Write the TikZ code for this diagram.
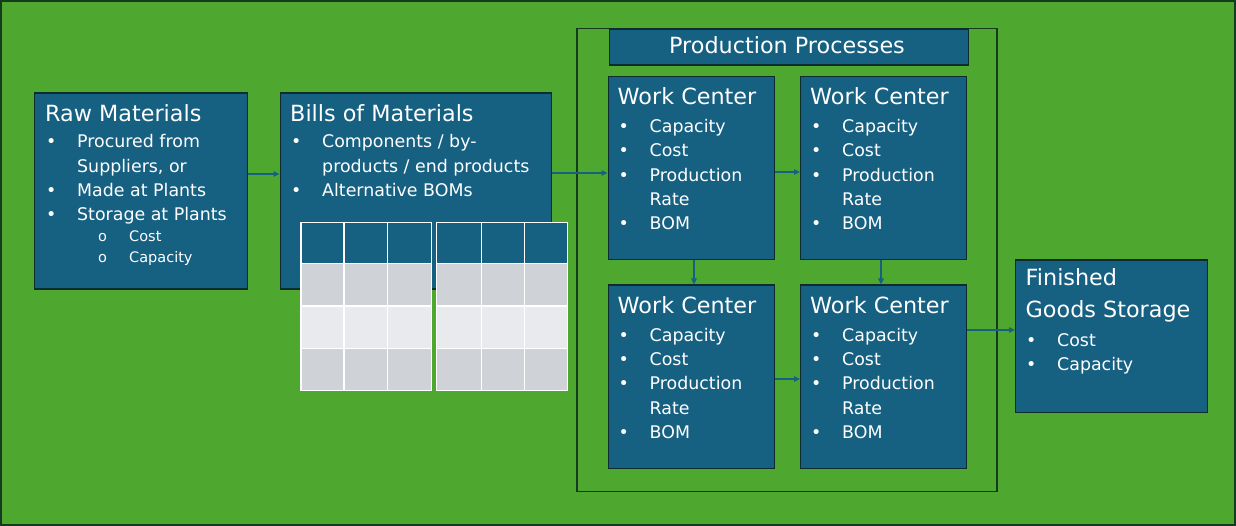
\documentclass[tikz,border=0pt]{standalone}
\usepackage{fontspec}
\setmainfont{DejaVu Sans}
\usetikzlibrary{arrows.meta}

\definecolor{fieldgreen}{RGB}{78,167,46}
\definecolor{framedark}{RGB}{22,58,30}
\definecolor{panelblue}{RGB}{22,96,130}
\definecolor{paneledge}{RGB}{14,44,48}
\definecolor{rowgray}{RGB}{207,211,216}
\definecolor{rowlight}{RGB}{232,234,237}

% one bullet line, a wrapped line, and a sub bullet line
\newcommand{\itm}[1]{\makebox[31pt][l]{\textbullet}#1\par}
\newcommand{\cnt}[1]{\hspace*{31pt}#1\par}
\newcommand{\subitm}[1]{\hspace*{52pt}\makebox[31pt][l]{o}#1\par}
\newcommand{\ttl}{\fontsize{22.3}{31.5}\selectfont}
\newcommand{\lst}[1]{\parbox[t]{300pt}{\fontsize{17.4}{24.3}\selectfont\parindent=0pt\raggedright\hyphenpenalty=10000 #1}}

\begin{document}
\begin{tikzpicture}[x=1pt,y=-1pt,
    panel/.style={draw=paneledge,line width=1.3pt,fill=panelblue,anchor=north west,inner sep=0pt},
    txt/.style={anchor=base west,text=white,inner sep=0pt},
    flow/.style={draw=panelblue,line width=1.4pt,-{Triangle[length=6pt,width=5.5pt]}}]
    \useasboundingbox (0,0) rectangle (1236,526);
    \fill[fieldgreen,draw=framedark,line width=2pt] (1,1) rectangle (1235,525);

    % raw materials
    \node[panel,minimum width=213pt,minimum height=196pt] (raw) at (34,92.5) {};
    \node[txt] (rawtitle) at (45,122) {\ttl Raw Materials};
    \node[txt] (rawlist) at (46,148) {\lst{\itm{Procured from}\cnt{Suppliers, or}\itm{Made at Plants}\itm{Storage at Plants}
      {\fontsize{14.5}{21}\selectfont\subitm{Cost}\subitm{Capacity}}}};

    % bills of materials
    \node[panel,minimum width=271pt,minimum height=196pt] (bom) at (279.5,92.5) {};
    \node[txt] (bomtitle) at (290,122) {\ttl Bills of Materials};
    \node[txt] (bomlist) at (291,148) {\lst{\itm{Components / by-}\cnt{products / end products}\itm{Alternative BOMs}}};

    % the two tables
    \foreach \xa/\xb/\xc/\xd in {301/344/387.5/431.5, 436.5/481.5/524.5/567.5} {
      \fill[panelblue] (\xa,222.5) rectangle (\xd,263.5);
      \fill[rowgray] (\xa,263.5) rectangle (\xd,306);
      \fill[rowlight] (\xa,306) rectangle (\xd,348.5);
      \fill[rowgray] (\xa,348.5) rectangle (\xd,390.5);
      \draw[white,line width=1.6pt] (\xa,222.5) rectangle (\xd,390.5);
      \draw[white,line width=1.6pt] (\xb,222.5) -- (\xb,390.5) (\xc,222.5) -- (\xc,390.5)
        (\xa,263.5) -- (\xd,263.5) (\xa,306) -- (\xd,306) (\xa,348.5) -- (\xd,348.5);
    }

    % production processes
    \draw[framedark,line width=1.6pt] (577,28.5) rectangle (997,491.5);
    \node[panel,minimum width=359pt,minimum height=36pt] (prodhead) at (608.5,28.5) {};
    \node[anchor=base,text=white,inner sep=0pt] (prodtitle) at (787,54) {\fontsize{22.3}{25}\selectfont Production Processes};

    \foreach \name/\px/\py in {wca/607.5/76, wcb/800/76, wcc/607.5/284.5, wcd/800/284.5} {
      \node[panel,minimum width=166pt,minimum height=183pt] (\name) at (\px,\py) {};
      \node[txt] (\name title) at (\px+10,\py+29) {\ttl Work Center};
      \node[txt] (\name list) at (\px+11,\py+56.7) {\lst{\itm{Capacity}\itm{Cost}\itm{Production}\cnt{Rate}\itm{BOM}}};
    }

    % finished goods
    \node[panel,minimum width=192pt,minimum height=152pt] (fgs) at (1015,259.5) {};
    \node[txt] (fgstitle) at (1025.5,286) {\parbox[t]{180pt}{\ttl Finished\\Goods Storage}};
    \node[txt] (fgslist) at (1026,346) {\lst{\itm{Cost}\itm{Capacity}}};

    % connectors
    \draw[flow] (raw.east |- 0,174) -- (bom.west |- 0,174);
    \draw[flow] (bom.east |- 0,173) -- (wca.west |- 0,173);
    \draw[flow] (wca.east |- 0,172) -- (wcb.west |- 0,172);
    \draw[flow] (wcc.east |- 0,379) -- (wcd.west |- 0,379);
    \draw[flow] (wca.south -| 694,0) -- (wcc.north -| 694,0);
    \draw[flow] (wcb.south -| 881,0) -- (wcd.north -| 881,0);
    \draw[flow] (wcd.east |- 0,330) -- (fgs.west |- 0,330);
\end{tikzpicture}
\end{document}
